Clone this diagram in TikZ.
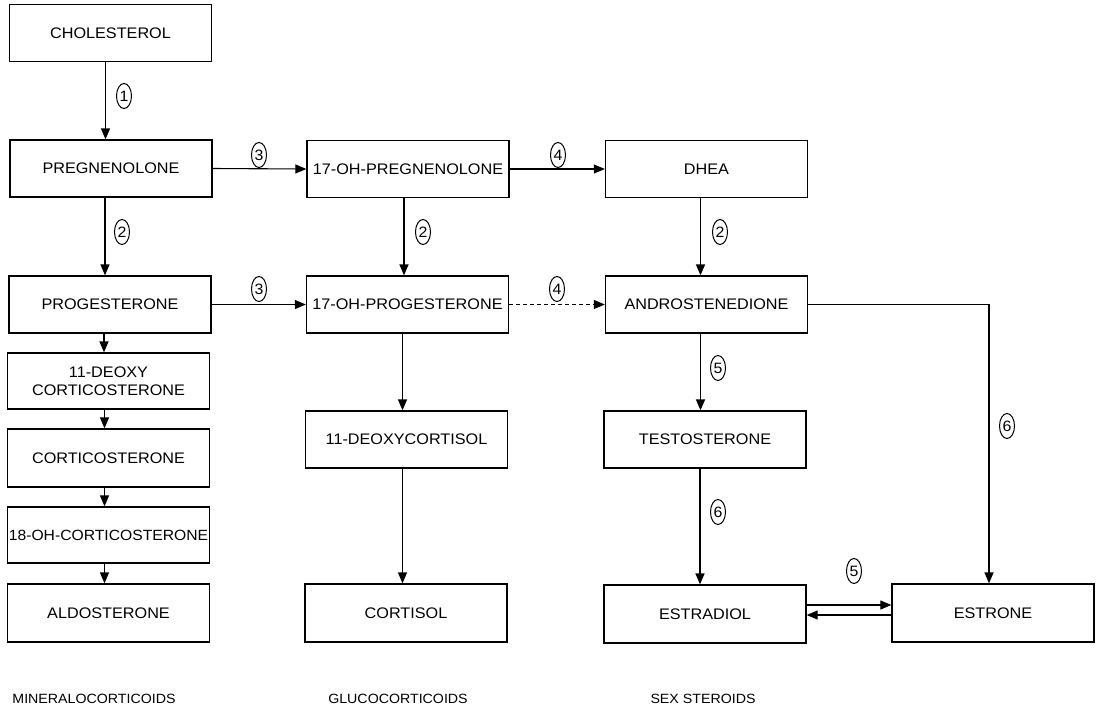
\documentclass[tikz,border=0pt]{standalone}
\usepackage{fontspec}
\setmainfont{Liberation Sans}[FakeStretch=1.06]
\usetikzlibrary{arrows.meta,shapes.geometric}
\begin{document}
\begin{tikzpicture}[x=1pt,y=-1pt,
  font=\fontsize{15.3}{18.5}\selectfont,
  stepbox/.style={draw, line width=1.3pt, minimum width=202pt, minimum height=57pt,
    inner sep=0pt, align=center},
  arr/.style={line width=1.4pt, -{Triangle[length=11pt,width=9pt]}},
  harr/.style={line width=1.1pt, -{Triangle[length=11pt,width=9pt]}},
  num/.style={draw, ellipse, line width=1pt, inner sep=0pt, minimum width=15pt,
    minimum height=25pt, font=\fontsize{15}{15}\selectfont},
  group/.style={font=\fontsize{13.4}{16}\selectfont}]
\useasboundingbox (0,0) rectangle (1100,716);

% mineralocorticoid column
\node[stepbox] (chol) at (110.5,33) {CHOLESTEROL};
\node[stepbox] (preg) at (111,168.5) {PREGNENOLONE};
\node[stepbox] (prog) at (110,304.5) {PROGESTERONE};
\node[stepbox, minimum height=56pt] (doc) at (108.5,381) {11-DEOXY\\CORTICOSTERONE};
\node[stepbox, minimum height=58pt] (cort) at (108.5,458) {CORTICOSTERONE};
\node[stepbox, minimum height=56pt, font=\fontsize{14.8}{18}\selectfont] (ohc) at (108.5,535) {18-OH-CORTICOSTERONE};
\node[stepbox, minimum height=58pt] (aldo) at (108.5,613) {ALDOSTERONE};

% glucocorticoid column
\node[stepbox] (ohpreg) at (408,169) {17-OH-PREGNENOLONE};
\node[stepbox] (ohprog) at (407.5,304.5) {17-OH-PROGESTERONE};
\node[stepbox] (doxc) at (406.5,439.5) {11-DEOXYCORTISOL};
\node[stepbox, minimum height=58pt] (cortisol) at (406,613) {CORTISOL};

% sex steroid column
\node[stepbox] (dhea) at (706.5,169) {DHEA};
\node[stepbox] (andro) at (706.5,304.5) {ANDROSTENEDIONE};
\node[stepbox] (testo) at (705,439.5) {TESTOSTERONE};
\node[stepbox, minimum height=58pt] (estradiol) at (705,614) {ESTRADIOL};
\node[stepbox, minimum height=58pt] (estrone) at (993,613) {ESTRONE};

% vertical conversions
\draw[arr] ([xshift=-5pt]chol.south) -- ([xshift=-5pt]chol.south |- preg.north);
\draw[arr] ([xshift=-6pt]preg.south) -- ([xshift=-6pt]preg.south |- prog.north);
\draw[arr] ([xshift=-6pt]prog.south) -- ([xshift=-6pt]prog.south |- doc.north);
\draw[arr] ([xshift=-4pt]doc.south) -- ([xshift=-4pt]doc.south |- cort.north);
\draw[arr] ([xshift=-4pt]cort.south) -- ([xshift=-4pt]cort.south |- ohc.north);
\draw[arr] ([xshift=-4pt]ohc.south) -- ([xshift=-4pt]ohc.south |- aldo.north);
\draw[arr] ([xshift=-4pt]ohpreg.south) -- ([xshift=-4pt]ohpreg.south |- ohprog.north);
\draw[arr] ([xshift=-5pt]ohprog.south) -- ([xshift=-5pt]ohprog.south |- doxc.north);
\draw[arr] ([xshift=-4pt]doxc.south) -- ([xshift=-4pt]doxc.south |- cortisol.north);
\draw[arr] ([xshift=-6pt]dhea.south) -- ([xshift=-6pt]dhea.south |- andro.north);
\draw[arr] ([xshift=-6pt]andro.south) -- ([xshift=-6pt]andro.south |- testo.north);
\draw[arr] ([xshift=-5pt]testo.south) -- ([xshift=-5pt]testo.south |- estradiol.north);

% horizontal conversions
\draw[harr] (preg.east) -- (ohpreg.west);
\draw[harr] (prog.east) -- (ohprog.west);
\draw[harr] (ohpreg.east) -- (dhea.west);
\draw[harr, dash pattern=on 4pt off 3pt] (ohprog.east) -- (andro.west);
\draw[arr] (andro.east) -| ([xshift=-4pt]estrone.north);

% estradiol <-> estrone
\coordinate (fwd) at ([yshift=9pt]estradiol.east);
\coordinate (bwd) at ([yshift=-2pt]estrone.west);
\draw[harr] (fwd) -- (fwd -| estrone.west);
\draw[harr] (bwd) -- (bwd -| estradiol.east);

% enzyme numbers
\node[num] (n1) at (124,96) {1};
\node[num] (n2a) at (122,232) {2};
\node[num] (n3a) at (259,155) {3};
\node[num] (n3b) at (259,289) {3};
\node[num] (n2b) at (423,232) {2};
\node[num] (n4a) at (558,155) {4};
\node[num] (n4b) at (557,289) {4};
\node[num] (n2c) at (720,232) {2};
\node[num] (n5a) at (718,368) {5};
\node[num] (n6a) at (718,512) {6};
\node[num] (n6b) at (1007,426) {6};
\node[num] (n5b) at (854,571) {5};

% group labels
\node[group] (mineral) at (94,699) {MINERALOCORTICOIDS};
\node[group] (gluco) at (398,699) {GLUCOCORTICOIDS};
\node[group] (sex) at (703,699) {SEX STEROIDS};
\end{tikzpicture}
\end{document}
